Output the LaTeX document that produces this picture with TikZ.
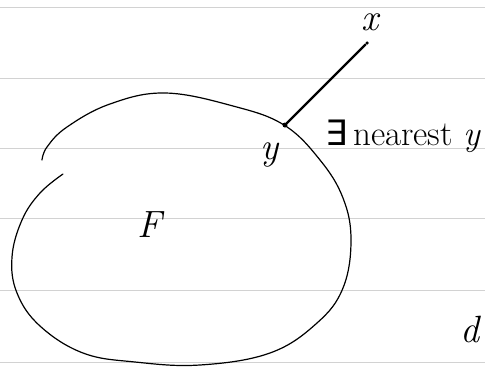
\documentclass[tikz,border=0pt]{standalone}
\usepackage{fontspec}
\newfontfamily\symbfont{DejaVu Sans}
\usetikzlibrary{positioning}

\begin{document}
\begin{tikzpicture}[
    x=1pt, y=1pt,
    ruled/.style={draw=gray!35, line width=0.8pt},
    setline/.style={draw, line width=1.2pt, line cap=round},
    dot/.style={circle, fill, inner sep=0pt, minimum size=5pt},
    seg/.style={line width=2.2pt, line cap=round},
    lbl/.style={font=\fontsize{38}{40}\selectfont\itshape, inner sep=1pt},
    phrase/.style={font=\fontsize{35}{38}\selectfont, inner sep=1pt}
]
    \useasboundingbox (0,0) rectangle (485,368);
    % lined paper
    \foreach \ly in {6,78,150,220,290,361}
        \draw[ruled] (0,\ly) -- (485,\ly);
    % the set F, open at the upper left
    \draw[setline] plot[smooth, tension=0.65] coordinates {
        (42,208) (47,221) (67,241) (110,264) (165,275) (233,262)
        (284,243) (320,208) (343,170) (351,128) (343,80) (317,45)
        (270,15) (200,3) (135,6) (83,15) (40,42) (17,75) (12,111)
        (22,148) (40,175) (63,194)};
    \node[lbl] (setF) at (150,143) {F};
    % point x and its nearest point y
    \node[dot] (ypt) at (285,243) {};
    \node[dot, minimum size=3.5pt] (xpt) at (367,325) {};
    \draw[seg] (ypt) -- (xpt);
    \node[lbl] (xlbl) at (370,346) {x};
    \node[lbl] (ylbl) at (270,213) {y};
    \node[phrase, anchor=base west] (near) at (324,223)
        {{\symbfont ∃}\,nearest \textit{y}};
    \node[lbl] (dlbl) at (470,38) {d};
\end{tikzpicture}
\end{document}
